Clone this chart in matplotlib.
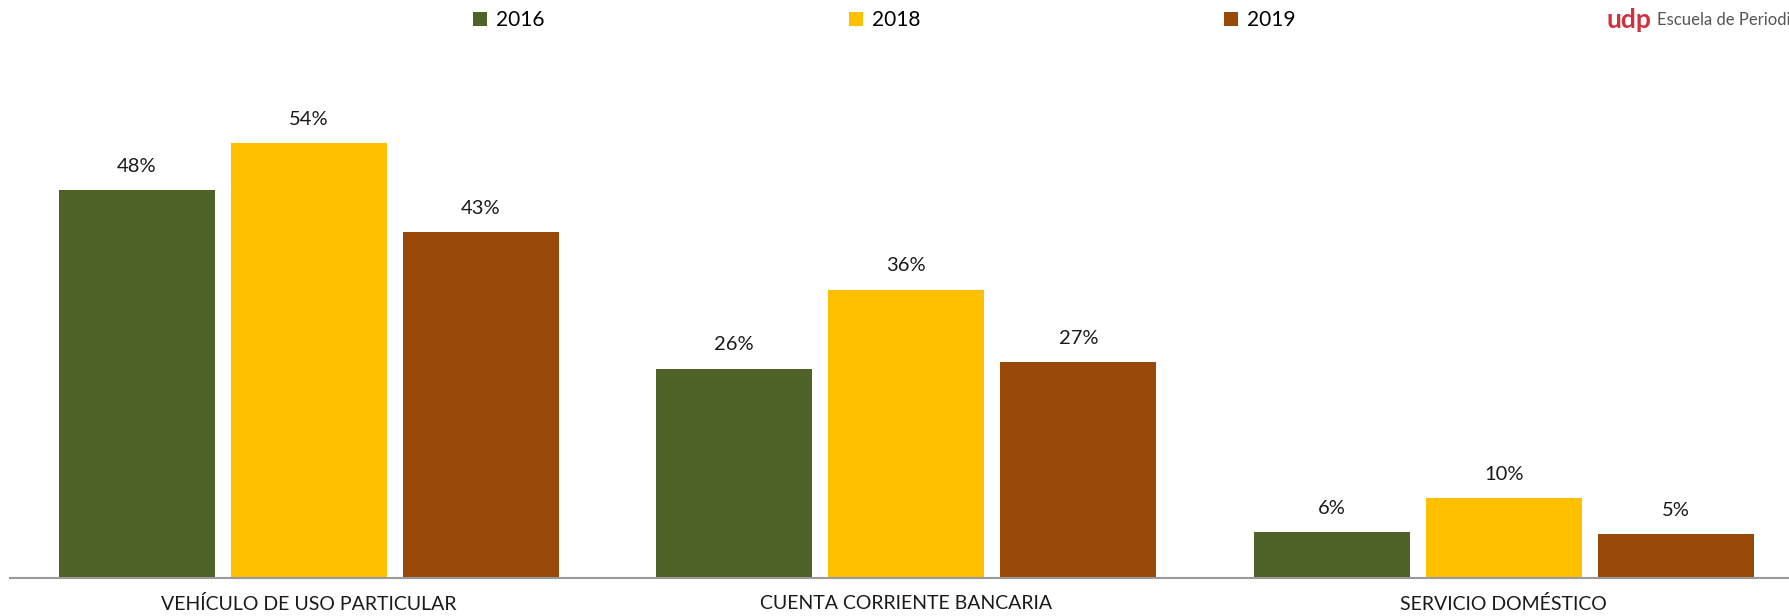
import numpy as np
import matplotlib
matplotlib.use('Agg')
import matplotlib.pyplot as plt

# datos (porcentajes)
categorias = ['VEHÍCULO DE USO PARTICULAR', 'CUENTA CORRIENTE BANCARIA', 'SERVICIO DOMÉSTICO']
anios = ['2016', '2018', '2019']
v2016 = [48.2, 26.0, 5.7]
v2018 = [54.0, 35.8, 9.9]
v2019 = [42.9, 26.8, 5.4]
colores = ['#4F6228', '#FFC000', '#984807']

plt.rcParams['font.family'] = ['Lato', 'DejaVu Sans']

fig = plt.figure(figsize=(17.9, 6.16), dpi=100)
ax = fig.add_axes([10 / 1790, 38 / 616, 1 - 10 / 1790, 60 * 8.056 / 616])

x = np.arange(len(categorias))
ancho = 0.261
paso = 0.288
series = [v2016, v2018, v2019]
for k in range(3):
    barras = ax.bar(x + (k - 1) * paso, series[k], ancho, color=colores[k], label=anios[k])
    for b, v in zip(barras, series[k]):
        ax.annotate('%d%%' % round(v), (b.get_x() + b.get_width() / 2, b.get_height()),
                    xytext=(0, 17), textcoords='offset points',
                    ha='center', va='center', fontsize=14.5, color='#1a1a1a')

ax.set_xlim(-0.5, 2.479)
ax.set_ylim(0, 60)
ax.set_xticks(x)
ax.set_xticklabels(categorias, fontsize=14, color='#1a1a1a')
ax.tick_params(axis='x', length=0, pad=12)
ax.set_yticks([])
for s in ['top', 'right', 'left']:
    ax.spines[s].set_visible(False)
ax.spines['bottom'].set_color('#9a9a9a')
ax.spines['bottom'].set_linewidth(1.5)

fig.legend(loc='center', bbox_to_anchor=(884.5 / 1790, 1 - 20 / 616), ncol=3, frameon=False,
           fontsize=15, handlelength=0.67, handleheight=0.67, handletextpad=0.43,
           columnspacing=14.6, borderaxespad=0, borderpad=0)

# logo (cortado en el borde derecho, como en el original)
fig.text(1607 / 1790, 1 - 20 / 616, 'udp', color='#D0313C', fontsize=19, fontweight='bold',
         ha='left', va='center')
fig.text(1657 / 1790, 1 - 20 / 616, 'Escuela de Periodismo', color='#555555', fontsize=12,
         ha='left', va='center')

fig.savefig('out.png', dpi=100)
